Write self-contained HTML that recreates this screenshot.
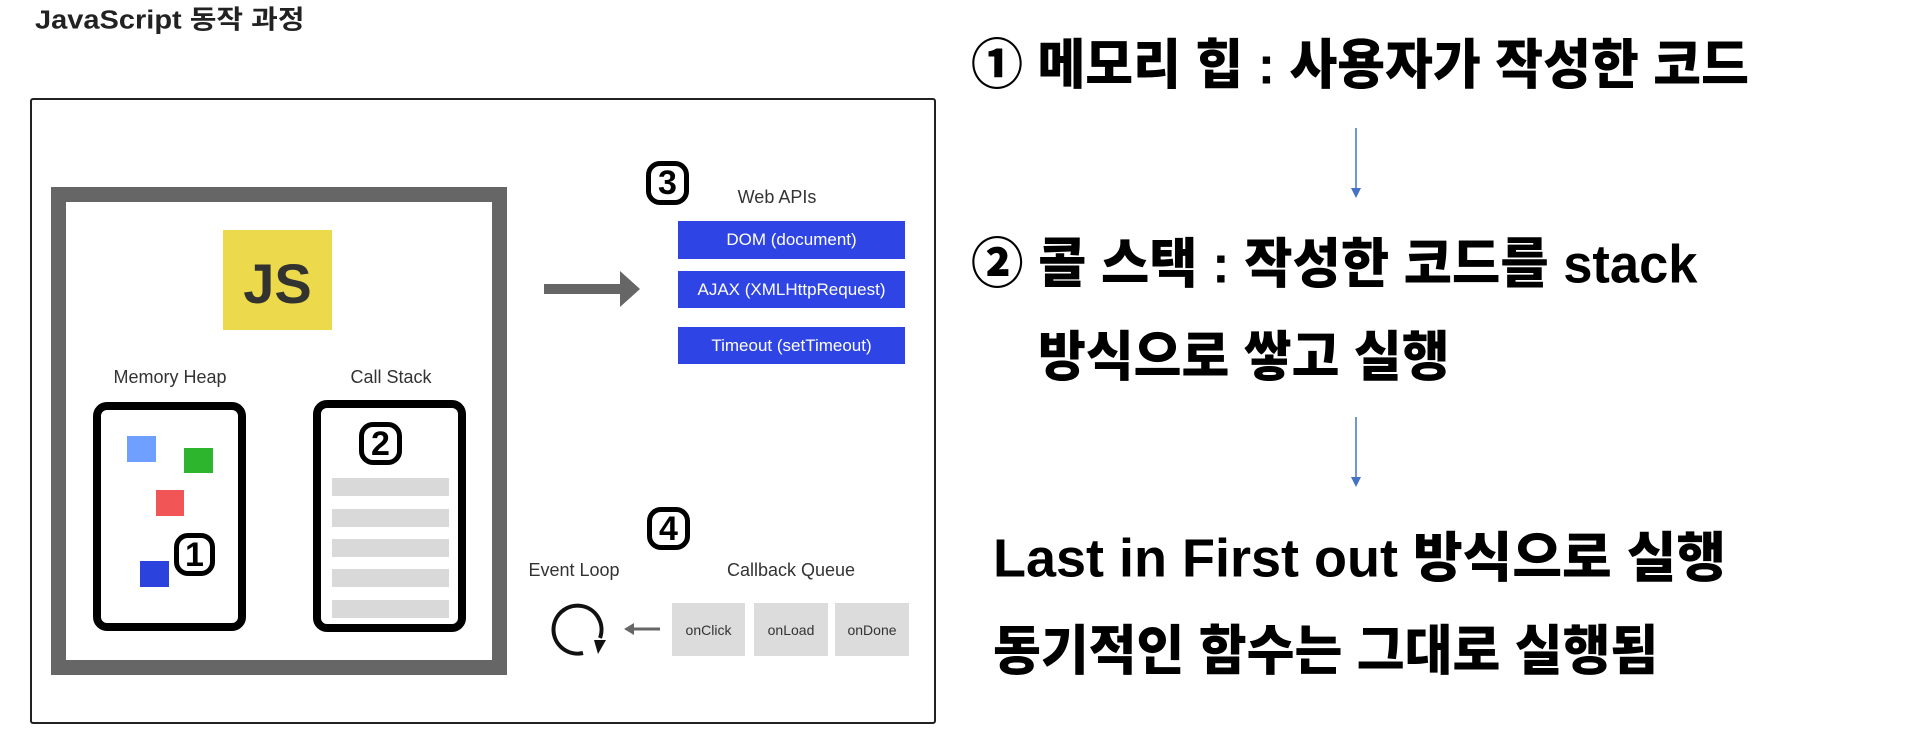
<!DOCTYPE html>
<html><head><meta charset="utf-8"><style>
*{margin:0;padding:0;box-sizing:border-box}
body{width:1906px;height:740px;background:#fff;position:relative;overflow:hidden;font-family:"Liberation Sans","Noto Sans CJK KR",sans-serif}
.a{position:absolute}
.num{position:absolute;border:5px solid #000;border-radius:14px;font:bold 34px/1 "Liberation Sans",sans-serif;display:flex;align-items:center;justify-content:center;color:#000;background:#fff}
.lbl{position:absolute;font-size:18px;color:#333;transform:translateX(-50%);white-space:nowrap;line-height:1}
.blue{position:absolute;left:678px;width:227px;background:#2e44e4;color:#fff;font-size:17px;display:flex;align-items:center;justify-content:center}
.bar{position:absolute;left:332px;width:117px;height:18px;background:#d9d9d9}
.q{position:absolute;top:603px;height:53px;background:#dcdcdc;font-size:14px;color:#333;display:flex;align-items:center;justify-content:center}
.big{position:absolute;font-family:"Liberation Sans","Noto Sans CJK KR",sans-serif;font-weight:900;font-size:50px;line-height:1;white-space:nowrap;color:#000;transform-origin:0 0}
</style></head><body>
<div class="a" style="left:35px;top:5px;font-size:29px;font-weight:bold;color:#222;line-height:1.2;transform:scaleY(0.9);transform-origin:0 0">JavaScript 동작 과정</div>
<div class="a" style="left:30px;top:98px;width:906px;height:626px;border:2px solid #222;border-radius:3px"></div>
<div class="a" style="left:51px;top:187px;width:456px;height:488px;border:15px solid #666"></div>
<div class="a" style="left:223px;top:230px;width:109px;height:100px;background:#ecd94c;display:flex;align-items:center;justify-content:center;padding-top:8px;font:bold 56px/1 'Liberation Sans',sans-serif;color:#323330">JS</div>
<div class="lbl" style="left:170px;top:368px">Memory Heap</div>
<div class="lbl" style="left:391px;top:368px">Call Stack</div>
<div class="a" style="left:93px;top:402px;width:153px;height:229px;border:8px solid #000;border-radius:14px"></div>
<div class="a" style="left:313px;top:400px;width:153px;height:232px;border:8px solid #000;border-radius:14px"></div>
<div class="a" style="left:127px;top:436px;width:29px;height:26px;background:#6fa0ff"></div>
<div class="a" style="left:184px;top:448px;width:29px;height:25px;background:#2db52d"></div>
<div class="a" style="left:156px;top:490px;width:28px;height:26px;background:#f25555"></div>
<div class="a" style="left:140px;top:561px;width:29px;height:26px;background:#2b43dc"></div>
<div class="num" style="left:174px;top:533px;width:41px;height:43px">1</div>
<div class="num" style="left:359px;top:422px;width:43px;height:43px">2</div>
<div class="bar" style="top:478px"></div><div class="bar" style="top:509px"></div><div class="bar" style="top:539px"></div><div class="bar" style="top:569px"></div><div class="bar" style="top:600px"></div>
<svg class="a" style="left:540px;top:265px" width="110" height="50"><rect x="4" y="19" width="82" height="10" fill="#666"/><polygon points="80,6 100,24 80,42" fill="#666"/></svg>
<div class="num" style="left:646px;top:161px;width:43px;height:44px">3</div>
<div class="lbl" style="left:777px;top:188px">Web APIs</div>
<div class="blue" style="top:221px;height:38px">DOM (document)</div>
<div class="blue" style="top:271px;height:37px">AJAX (XMLHttpRequest)</div>
<div class="blue" style="top:327px;height:37px">Timeout (setTimeout)</div>
<div class="num" style="left:647px;top:507px;width:43px;height:43px">4</div>
<div class="lbl" style="left:574px;top:561px">Event Loop</div>
<div class="lbl" style="left:791px;top:561px">Callback Queue</div>
<svg class="a" style="left:550px;top:600px" width="120" height="60"><path d="M50 38 A24 24 0 1 0 33 53" fill="none" stroke="#111" stroke-width="4"/><polygon points="44,40 56,40 48,54" fill="#111"/><line x1="82" y1="29" x2="110" y2="29" stroke="#666" stroke-width="3"/><polygon points="74,29 84,23 84,35" fill="#666"/></svg>
<div class="q" style="left:672px;width:73px">onClick</div>
<div class="q" style="left:754px;width:74px">onLoad</div>
<div class="q" style="left:835px;width:74px">onDone</div>
<div class="big" style="left:971px;top:38px;transform:scale(1.04,1.08)">① 메모리 힙 : 사용자가 작성한 코드</div>
<svg class="a" style="left:1348px;top:126px" width="16" height="74"><line x1="8" y1="2" x2="8" y2="64" stroke="#4472c4" stroke-width="1.5"/><polygon points="3,62 13,62 8,72" fill="#4472c4"/></svg>
<div class="big" style="left:971px;top:237px;transform:scale(1.05,1.08)">② 콜 스택 : 작성한 코드를 stack</div>
<div class="big" style="left:1038px;top:330px;transform:scale(1.04,1.08)">방식으로 쌓고 실행</div>
<svg class="a" style="left:1348px;top:415px" width="16" height="74"><line x1="8" y1="2" x2="8" y2="64" stroke="#4472c4" stroke-width="1.5"/><polygon points="3,62 13,62 8,72" fill="#4472c4"/></svg>
<div class="big" style="left:993px;top:531px;transform:scale(1.08,1.08)">Last in First out 방식으로 실행</div>
<div class="big" style="left:993px;top:624px;transform:scale(1.04,1.08)">동기적인 함수는 그대로 실행됨</div>
</body></html>
